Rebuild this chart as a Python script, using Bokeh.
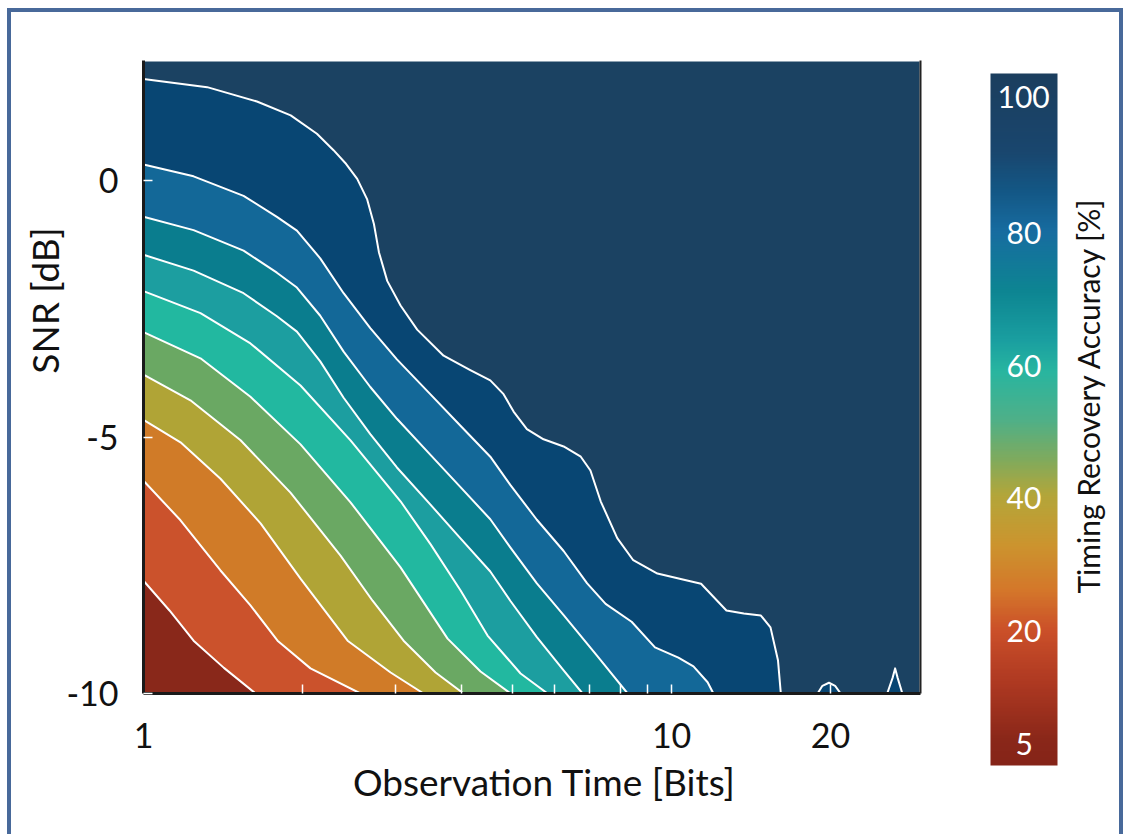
import numpy as np
from bokeh.plotting import figure
from bokeh.models import (FixedTicker, ColorBar, LinearColorMapper, LinearAxis, LogAxis, AllLabels)
from bokeh.embed import file_html
from bokeh.resources import INLINE

# ---------------- data: SNR [dB] at which each accuracy level is reached, vs observation time [bits]
t99 = [1.0, 1.32, 1.64, 1.90, 2.13, 2.29, 2.42, 2.539, 2.652, 2.731, 2.791, 2.894, 3.067, 3.298, 3.70, 4.157,
       4.536, 4.806, 5.021, 5.321, 5.722, 6.245, 6.73, 7.02, 7.34, 7.89, 8.46, 9.4, 10.55, 11.37, 12.7,
       13.7, 14.76, 15.39, 15.9, 16.1, 18.9, 19.3, 19.86, 20.4, 20.9, 25.6, 26.2, 26.5, 26.8, 27.35, 29.6]
s99 = [1.99, 1.83, 1.55, 1.28, 0.92, 0.60, 0.33, 0.04, -0.36, -0.84, -1.39, -1.95, -2.43, -2.90, -3.41, -3.69,
       -3.89, -4.16, -4.50, -4.84, -5.04, -5.18, -5.38, -5.65, -6.25, -6.97, -7.40, -7.66, -7.78, -7.86, -8.38,
       -8.44, -8.48, -8.71, -9.35, -10.0, -10.0, -9.85, -9.79, -9.85, -10.0, -10.0, -9.70, -9.51, -9.70, -10.0, -10.0]

t90 = [1.0, 1.244, 1.547, 1.789, 1.952, 2.161, 2.393, 2.688, 3.019, 3.491, 3.979, 4.536, 4.949, 5.557,
       6.245, 6.92, 7.5, 8.4, 9.3, 10.3, 11.0, 11.7, 12.0]
s90 = [0.32, 0.09, -0.29, -0.70, -0.97, -1.51, -2.19, -2.87, -3.48, -4.16, -4.77, -5.38, -5.93, -6.61,
       -7.22, -7.85, -8.25, -8.60, -9.10, -9.30, -9.47, -9.78, -10.0]

t80 = [1.0, 1.244, 1.547, 1.789, 1.952, 2.161, 2.393, 2.688, 3.019, 3.491, 3.979, 4.536, 4.949, 5.557,
       6.245, 7.222, 8.255]
s80 = [-0.70, -0.96, -1.36, -1.79, -2.08, -2.63, -3.33, -4.02, -4.64, -5.34, -5.97, -6.60, -7.15, -7.85,
       -8.47, -9.26, -10.0]

t70 = [1.0, 1.244, 1.547, 1.789, 1.952, 2.161, 2.393, 2.688, 3.019, 3.491, 3.979, 4.536, 4.949, 5.557,
       6.245, 6.783]
s70 = [-1.44, -1.75, -2.19, -2.64, -2.94, -3.52, -4.23, -4.94, -5.59, -6.31, -6.97, -7.62, -8.19, -8.90,
       -9.55, -10.0]

t60 = [1.0, 1.282, 1.594, 1.983, 2.466, 3.067, 3.497, 3.985, 4.482, 5.176, 5.823]
s60 = [-2.15, -2.58, -3.17, -3.99, -5.06, -6.25, -7.09, -7.99, -8.87, -9.61, -10.0]

t50 = [1.0, 1.282, 1.594, 1.983, 2.466, 3.067, 3.765, 4.347, 4.956]
s50 = [-2.95, -3.46, -4.21, -5.14, -6.27, -7.54, -8.93, -9.57, -10.0]

t40 = [1.0, 1.227, 1.527, 1.898, 2.361, 2.715, 3.108, 3.573, 4.037]
s40 = [-3.78, -4.28, -5.06, -6.08, -7.31, -8.19, -8.97, -9.59, -10.0]

t30 = [1.0, 1.175, 1.399, 1.666, 1.983, 2.435, 2.937, 3.391]
s30 = [-4.66, -5.10, -5.81, -6.68, -7.76, -8.97, -9.59, -10.0]

t20 = [1.0, 1.175, 1.399, 1.594, 1.794, 2.071, 2.576]
s20 = [-5.85, -6.62, -7.60, -8.28, -8.97, -9.51, -10.0]

t10 = [1.0, 1.12, 1.244, 1.42, 1.63]
s10 = [-7.80, -8.38, -8.97, -9.50, -10.0]

x_ticks = [1, 10, 20]
x_minor = [2, 3, 4, 5, 6, 7, 8, 9]
y_ticks = [-10, -5, 0]
y_labels = ["-10", "-5", "0"]
cb_labels = ["100", "80", "60", "40", "20", "5"]

# ---------------- styles / layout constants
NAVY = "#1b4262"
band_colors = ["#084673", "#136898", "#0a7d8e", "#1c9ea0", "#22b8a0",
               "#6aa863", "#b0a436", "#d07b28", "#cb522c", "#89281a"]
FONT = "Lato"
TXT = "#111111"
W, H = 1130, 834
FRAME_L, FRAME_R, FRAME_T, FRAME_B = 143, 920, 60, 693
Y0, Y1 = -10, 2.35
X0, X1 = 1, 29.6

def data_y(py):          # canvas pixel row -> SNR value (for placing text anchors)
    return Y1 - (py - FRAME_T) * (Y1 - Y0) / (FRAME_B - FRAME_T)

def data_x(px):          # canvas pixel column -> observation time (log axis)
    return 10 ** (np.log10(X0) + (px - FRAME_L) * (np.log10(X1) - np.log10(X0)) / (FRAME_R - FRAME_L))

border = "#48699a"
p = figure(width=W, height=H, x_axis_type="log", x_range=(X0, X1), y_range=(Y0, Y1),
           output_backend="svg", toolbar_location=None,
           min_border_left=FRAME_L, min_border_right=W - FRAME_R,
           min_border_top=FRAME_T, min_border_bottom=H - FRAME_B,
           background_fill_color=NAVY)
p.border_fill_alpha = 0
p.styles = {
    "background-color": "#ffffff",
    "box-shadow": ("inset 7px 0 0 0 #ffffff, inset 0 8px 0 0 #ffffff, inset -7px 0 0 0 #ffffff, "
                   f"inset 11px 0 0 0 {border}, inset 0 12px 0 0 {border}, inset -11px 0 0 0 {border}"),
}
p.grid.visible = False
p.outline_line_color = "white"
p.outline_line_width = 2

curves = [(t99, s99), (t90, s90), (t80, s80), (t70, s70), (t60, s60),
          (t50, s50), (t40, s40), (t30, s30), (t20, s20), (t10, s10)]

for (t, s), c in zip(curves, band_colors):
    xs = list(t) + [t[-1], t[0]]
    ys = list(s) + [-11, -11]
    p.patch(xs, ys, fill_color=c, line_color=None)
for t, s in curves:
    p.line(t, s, line_color="white", line_width=2, line_join="round")

# ---------------- axes
xa = p.xaxis[0]
xa.ticker = FixedTicker(ticks=x_ticks, minor_ticks=x_minor)
xa.major_label_overrides = {t: str(t) for t in x_ticks}
ya = p.yaxis[0]
ya.ticker = FixedTicker(ticks=y_ticks)
ya.major_label_overrides = dict(zip(y_ticks, y_labels))
for ax in (xa, ya):
    ax.axis_line_color = "#1a1a1a"
    ax.axis_line_width = 3
    ax.major_tick_in = 9
    ax.major_tick_out = 0
    ax.minor_tick_in = 9
    ax.minor_tick_out = 0
    ax.major_tick_line_color = "white"
    ax.minor_tick_line_color = "white"
    ax.major_tick_line_width = 1.5
    ax.minor_tick_line_width = 1.5
    ax.major_label_text_font = FONT
    ax.major_label_text_font_size = "34px"
    ax.major_label_text_color = TXT
xa.major_label_standoff = 29
ya.major_label_standoff = 25

def title_axis(cls, tick, text, **kw):
    return cls(ticker=FixedTicker(ticks=[tick]), major_label_overrides={tick: text},
               major_tick_line_color=None, minor_tick_line_color=None,
               major_tick_in=0, major_tick_out=0, minor_tick_in=0, minor_tick_out=0,
               major_label_text_font=FONT, major_label_text_color=TXT, **kw)

# x title
xt = round(float(data_x(544)), 4)
p.add_layout(title_axis(LogAxis, xt, "Observation Time [Bits]", axis_line_color=None,
                        major_label_standoff=8, major_label_text_font_size="37px"), "below")
# y title
yt = round(float(data_y(300)), 4)
p.add_layout(title_axis(LinearAxis, yt, "SNR [dB]", axis_line_color=None,
                        major_label_orientation="vertical", major_label_standoff=-4,
                        major_label_text_font_size="37px"), "left")
# right frame edge + colour-bar title
ct = round(float(data_y(593)), 4)
p.add_layout(title_axis(LinearAxis, ct, "Timing Recovery Accuracy [%]", axis_line_color="#222222",
                        axis_line_width=2, major_label_orientation=np.pi / 2,
                        major_label_standoff=168, major_label_text_font_size="30px"), "right")

# ---------------- colour bar
cb_vals = [5, 8.4, 16.7, 23.5, 29, 35.2, 42.1, 46.9, 52.4, 59.2, 63.3, 70.2, 78.4, 84, 89.4, 100]
cb_cols = ["#852418", "#8a2719", "#b03a22", "#cb5029", "#d4772a", "#cc942e", "#b3a63a", "#80aa5c",
           "#4fb088", "#28b5a0", "#1a9fa0", "#0d8592", "#176ca0", "#135785", "#19466e", "#1b3e5e"]
def hex2rgb(h):
    return [int(h[i:i + 2], 16) for i in (1, 3, 5)]
rgb = np.array([hex2rgb(c) for c in cb_cols], dtype=float)
vv = np.linspace(5, 100, 256)
pal = ["#%02x%02x%02x" % tuple(int(round(np.interp(v, cb_vals, rgb[:, k]))) for k in range(3)) for v in vv]
mapper = LinearColorMapper(palette=pal, low=5, high=100)

CB_L, CB_R, CB_T, CB_B = 990, 1057, 73, 765
cb_loc = (CB_L - FRAME_L, FRAME_B - CB_B)

def cb_value(py):
    return 5 + (CB_B - py) * 95.0 / (CB_B - CB_T)

cb_label_rows = [97, 232, 366, 497, 630, 743]
cb_tick_vals = [round(cb_value(r), 2) for r in cb_label_rows]

common = dict(color_mapper=mapper, width=CB_R - CB_L, height=CB_B - CB_T, location=cb_loc,
              padding=0, margin=0, major_tick_line_color=None, minor_tick_line_color=None,
              bar_line_color=None, border_line_color=None, background_fill_alpha=0)
p.add_layout(ColorBar(ticker=FixedTicker(ticks=[]), major_label_text_font_size="0px", **common))

# labels inside the bar, each centred on the bar
standoff_by_len = {3: -60, 2: -51, 1: -42}
for v, txt in zip(cb_tick_vals, cb_labels):
    p.add_layout(ColorBar(ticker=FixedTicker(ticks=[v]), major_label_overrides={v: txt},
                          major_label_policy=AllLabels(),
                          label_standoff=standoff_by_len[len(txt)], major_label_text_color="white",
                          major_label_text_font=FONT, major_label_text_font_size="30px",
                          scale_alpha=0, **common))

open("out.html", "w").write(file_html(p, INLINE))
